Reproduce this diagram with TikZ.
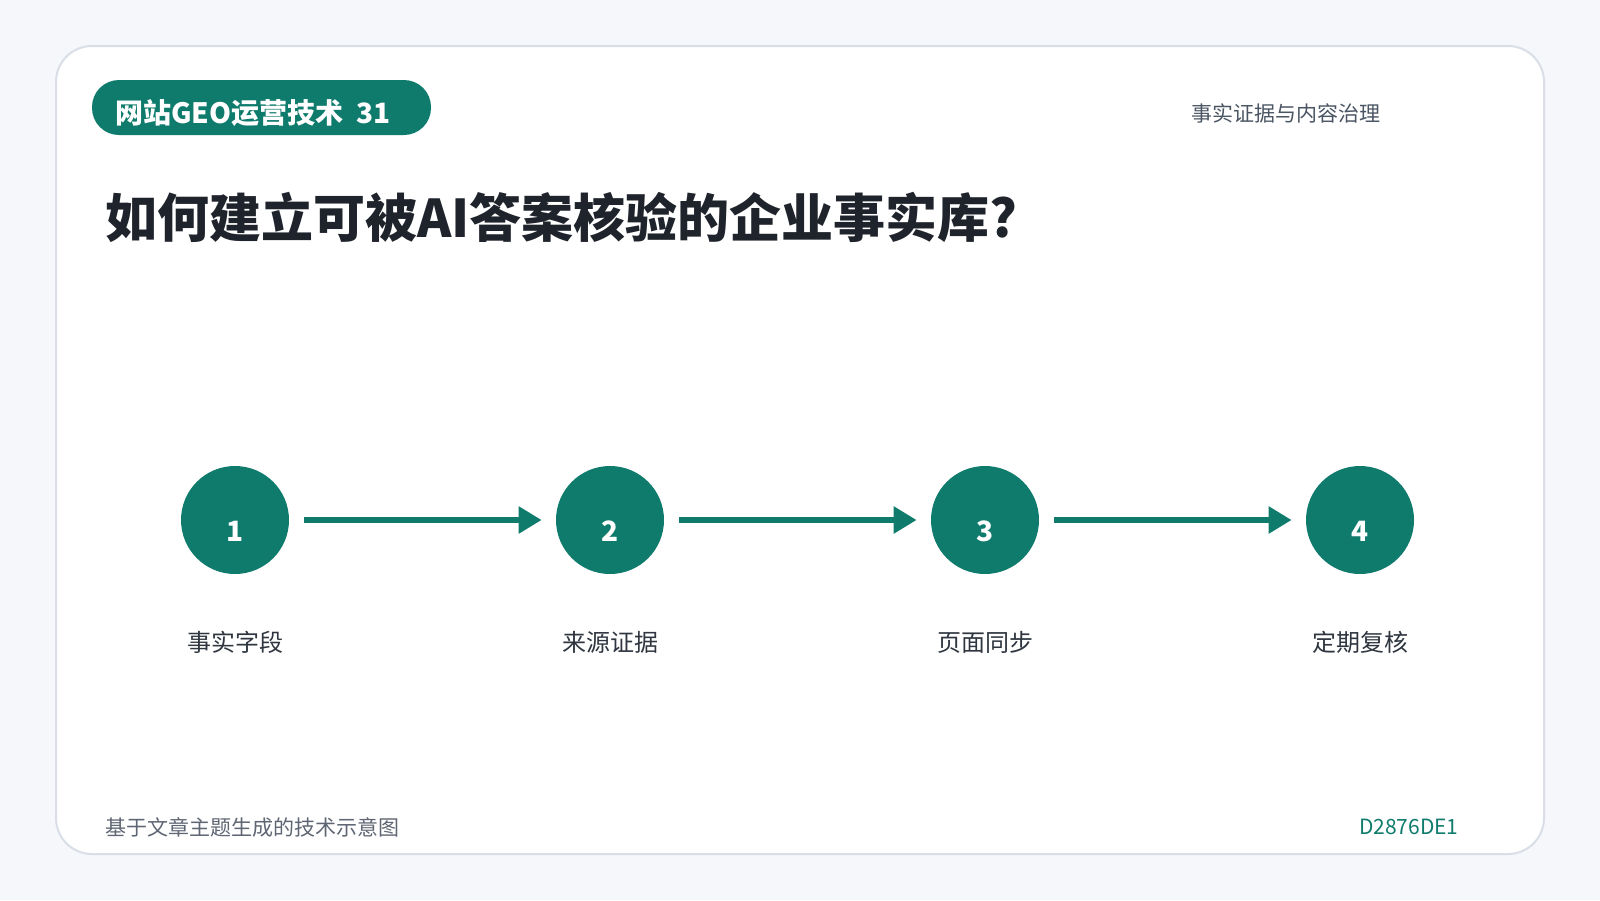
\documentclass[tikz,border=0pt]{standalone}
\usepackage{fontspec}
\setmainfont{Noto Sans CJK SC}
\usetikzlibrary{positioning, arrows.meta}

\definecolor{teal}{HTML}{0F7B6C}
\definecolor{pagebg}{HTML}{F5F7FA}
\definecolor{cardline}{HTML}{D9DEE7}
\definecolor{titleink}{HTML}{1F232B}
\definecolor{subink}{HTML}{4B5563}
\definecolor{labelink}{HTML}{2F3640}
\definecolor{footink}{HTML}{5F6673}

\tikzset{
  stepdot/.style={circle, fill=teal, minimum size=54pt, inner sep=0pt},
  stepnum/.style={text=white, font=\fontsize{14}{16}\selectfont\bfseries, inner sep=0pt},
  steplabel/.style={text=labelink, font=\fontsize{12}{14}\selectfont, inner sep=0pt},
  flow/.style={draw=teal, line width=3pt, -{Triangle[length=11.5pt,width=13pt]}, shorten <=7.5pt, shorten >=7pt},
}

\begin{document}
\begin{tikzpicture}[x=0.5pt,y=0.5pt,yscale=-1,xscale=1]
            \path[use as bounding box, fill=pagebg] (0,0) rectangle (1600,900);

            %Shape: Rounded Rectangle [id:card]
            \draw [cardline, line width=1pt, fill=white, rounded corners=18pt] (56,46) rectangle (1544,854);
            %Shape: Rounded Rectangle [id:tag]
            \fill [teal, rounded corners=13.5pt] (92,80) rectangle (431,135);

            % Text Node
            \node (tag) [anchor=west, inner sep=0pt, text=white, font=\fontsize{14}{16}\selectfont\bfseries] at (115,113) {网站GEO运营技术\ \ 31};
            % Text Node
            \node (topic) [anchor=west, inner sep=0pt, text=subink, font=\fontsize{10.5}{12}\selectfont] at (1191,113) {事实证据与内容治理};
            % Text Node
            \node (title) [anchor=west, inner sep=0pt, text=titleink, font=\fontsize{26}{30}\selectfont\bfseries] at (105,217) {如何建立可被AI答案核验的企业事实库?};

            %Shape: Circle [id:steps]
            \node (c1) [stepdot] at (235,520) {};
            \node (c2) [stepdot] at (610,520) {};
            \node (c3) [stepdot] at (985,520) {};
            \node (c4) [stepdot] at (1360,520) {};

            % Text Node
            \node (n1) [stepnum] at ([yshift=5.5pt]c1.center) {1};
            \node (n2) [stepnum] at ([yshift=5.5pt]c2.center) {2};
            \node (n3) [stepnum] at ([yshift=5.5pt]c3.center) {3};
            \node (n4) [stepnum] at ([yshift=5.5pt]c4.center) {4};

            %Straight Lines [id:flows]
            \draw [flow] (c1) -- (c2);
            \draw [flow] (c2) -- (c3);
            \draw [flow] (c3) -- (c4);

            % Text Node
            \node (l1) [steplabel] at (235,642) {事实字段};
            \node (l2) [steplabel] at (610,642) {来源证据};
            \node (l3) [steplabel] at (985,642) {页面同步};
            \node (l4) [steplabel] at (1360,642) {定期复核};

            % Text Node
            \node (note) [anchor=west, inner sep=0pt, text=footink, font=\fontsize{10.5}{12}\selectfont] at (105,827) {基于文章主题生成的技术示意图};
            % Text Node
            \node (code) [anchor=east, inner sep=0pt, text=teal, font=\fontsize{10.5}{12}\selectfont] at (1459,827) {D2876DE1};

\end{tikzpicture}
\end{document}
